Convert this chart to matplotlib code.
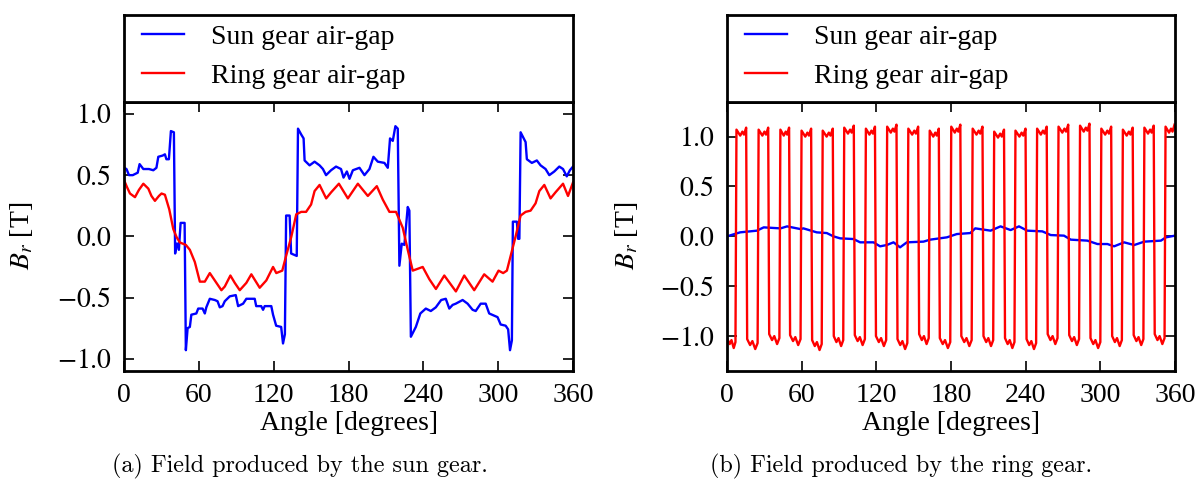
import numpy as np
import matplotlib
matplotlib.use("Agg")
import matplotlib.pyplot as plt

# ---- (a) field produced by the sun gear ----
sun_a_angle = [0, 2, 4, 7, 9, 11, 12.5, 14, 15.5, 20, 23.5, 26, 27.5, 31, 32.8, 34, 36,
               37.6, 40, 41, 42, 43, 44, 45.4, 48.6, 49.6, 51, 52.8, 54, 58, 59.5, 63,
               64.8, 66, 68.8, 72.8, 75, 76.8, 79, 80.8, 84.8, 89.6, 91.5, 95.5, 98.1,
               104.8, 106, 110, 111.5, 112.8, 118.1, 119.5, 122, 126, 127.5, 129, 130,
               132.8, 134, 138.5, 139.5, 142.2, 144, 144.8, 148.8, 152.8, 156.8, 159.5,
               162, 166, 170, 174, 176, 178.7, 180.8, 183.5, 188.8, 192.8, 196.8, 200,
               203.5, 208.8, 211.5, 213.3, 215.5, 217.6, 219.5, 220.8, 222.7, 224.8,
               227.5, 228.8, 230, 232, 234, 237.6, 242, 246, 250, 254.3, 258, 260.8,
               263.5, 266, 271.5, 275.5, 279.5, 282, 286, 290, 292.8, 299.5, 302, 306,
               308, 309.5, 311, 311.8, 315, 316, 317, 318, 320.5, 322, 323, 327, 331,
               334, 338, 341, 345, 349, 352, 355, 357.5, 360]
sun_a_field = [0.56, 0.55, 0.50, 0.50, 0.51, 0.52, 0.59, 0.57, 0.55, 0.55, 0.54, 0.56,
               0.65, 0.66, 0.67, 0.63, 0.63, 0.86, 0.85, -0.14, -0.06, -0.06, -0.11,
               0.11, 0.11, -0.93, -0.75, -0.74, -0.64, -0.63, -0.59, -0.59, -0.63,
               -0.58, -0.51, -0.52, -0.53, -0.58, -0.57, -0.53, -0.49, -0.48, -0.57,
               -0.55, -0.51, -0.51, -0.57, -0.57, -0.60, -0.57, -0.57, -0.64, -0.73,
               -0.74, -0.875, -0.80, 0.17, 0.17, -0.14, -0.16, 0.88, 0.83, 0.80, 0.62,
               0.58, 0.61, 0.58, 0.55, 0.50, 0.54, 0.57, 0.55, 0.48, 0.53, 0.47, 0.54,
               0.56, 0.50, 0.55, 0.65, 0.61, 0.60, 0.56, 0.80, 0.78, 0.90, 0.88, -0.24,
               -0.06, -0.07, 0.24, 0.21, -0.82, -0.78, -0.74, -0.63, -0.59, -0.61,
               -0.58, -0.52, -0.51, -0.59, -0.56, -0.55, -0.52, -0.55, -0.60, -0.61,
               -0.55, -0.55, -0.63, -0.66, -0.72, -0.73, -0.76, -0.93, -0.85, 0.12,
               0.12, -0.02, -0.02, 0.85, 0.80, 0.77, 0.63, 0.60, 0.62, 0.58, 0.55,
               0.50, 0.53, 0.57, 0.55, 0.49, 0.54, 0.57]

ring_a_angle = [0, 2.5, 4.8, 8.8, 12, 15.5, 19.5, 22, 24.8, 28, 30.1, 32.8, 36.3, 39.5,
                42.1, 44.8, 49.6, 52.8, 56.8, 60.8, 64.8, 68.8, 74.1, 78.1, 80.8, 85.3,
                88.8, 92.8, 98.1, 102.1, 108.8, 114.1, 119.5, 122.1, 126.9, 130.1,
                134.1, 138.1, 142.1, 146, 150, 152.8, 156.8, 162.1, 166.1, 172.3,
                179.5, 187.5, 195.5, 202.7, 207.5, 212.8, 218.1, 223.5, 227.5, 231.5,
                239.5, 244.8, 250.1, 256.8, 266.1, 272.8, 280.8, 288.8, 295.5, 300.3,
                304, 307, 310, 314, 318, 322, 326, 330, 333, 337, 342, 346, 352, 356, 360]
ring_a_field = [0.46, 0.40, 0.35, 0.32, 0.38, 0.43, 0.39, 0.33, 0.29, 0.33, 0.35, 0.34,
                0.22, 0.06, -0.005, -0.05, -0.07, -0.11, -0.21, -0.37, -0.37, -0.30,
                -0.38, -0.44, -0.41, -0.32, -0.38, -0.44, -0.38, -0.31, -0.42, -0.36,
                -0.25, -0.30, -0.28, -0.155, -0.005, 0.18, 0.20, 0.20, 0.26, 0.37,
                0.42, 0.31, 0.36, 0.43, 0.31, 0.43, 0.33, 0.41, 0.30, 0.20, 0.20, 0.07,
                -0.11, -0.28, -0.25, -0.35, -0.43, -0.32, -0.45, -0.32, -0.44, -0.31,
                -0.37, -0.28, -0.30, -0.28, -0.16, 0.0, 0.17, 0.20, 0.21, 0.27, 0.37,
                0.42, 0.31, 0.36, 0.43, 0.33, 0.44]

# ---- (b) field produced by the ring gear ----
sun_b_angle = [0, 10.5, 24, 29.5, 43, 48.3, 59, 61.4, 72.1, 80.2, 85.5, 90.9, 101.6,
               107, 117.7, 123, 128.4, 133.8, 139.1, 144.5, 157.9, 163.3, 176.7, 184.7,
               195.5, 199.5, 211.8, 219.8, 227.9, 234.6, 241.3, 253.4, 260.1, 270.8,
               276.2, 289.6, 297.7, 305.7, 311.1, 319.1, 327.2, 335.3, 348.7, 352.7, 360]
sun_b_field = [0.0, 0.04, 0.057, 0.09, 0.08, 0.10, 0.073, 0.08, 0.04, 0.033, 0.0, -0.02,
               -0.027, -0.06, -0.06, -0.10, -0.087, -0.06, -0.11, -0.06, -0.053,
               -0.033, -0.01, 0.023, 0.033, 0.08, 0.057, 0.10, 0.063, 0.10, 0.057,
               0.05, 0.013, 0.007, -0.033, -0.043, -0.077, -0.077, -0.10, -0.06,
               -0.087, -0.053, -0.043, -0.01, 0.007]

# edges of the ring-gear square wave (degrees) and plateau extremes
ring_rise = [7.2, 25.0, 42.5, 59.5, 76.5, 93.8, 111.2, 128.3, 145.3, 162.5, 179.8,
             197.0, 214.3, 231.4, 248.8, 266.0, 283.3, 300.4, 317.7, 335.0, 352.0]
ring_fall = [15.8, 33.5, 50.3, 68.0, 85.4, 102.3, 119.3, 136.6, 154.0, 170.6, 187.9,
             205.7, 223.0, 240.3, 257.3, 274.6, 291.7, 309.1, 326.4, 343.3]
ring_high = [1.09, 1.09, 1.09, 1.08, 1.08, 1.11, 1.10, 1.12, 1.10, 1.08, 1.12, 1.10,
             1.07, 1.08, 1.10, 1.12, 1.13, 1.10, 1.09, 1.11, 1.12]
ring_low = [-1.12, -1.13, -1.08, -1.09, -1.14, -1.10, -1.09, -1.10, -1.13, -1.08,
            -1.12, -1.10, -1.10, -1.12, -1.13, -1.08, -1.09, -1.12, -1.10, -1.09, -1.08]

yticks = [-1.0, -0.5, 0.0, 0.5, 1.0]
ytick_labels = ['$-1.0$', '$-0.5$', '$0.0$', '$0.5$', '$1.0$']
sun_label = 'Sun gear air-gap'
ring_label = 'Ring gear air-gap'
captions = ['(a) Field produced by the sun gear.', '(b) Field produced by the ring gear.']

W, H = 1203, 496
plt.rcParams['font.family'] = ['Liberation Serif', 'DejaVu Serif']
plt.rcParams['mathtext.fontset'] = 'stix'
plt.rcParams['font.size'] = 20


def square_wave(rises, falls, highs, lows, end):
    """Vertex list of the ring-gear square wave from its read edges."""
    edges = sorted([(r, 1) for r in rises] + [(f, 0) for f in falls])
    bounds = [0.0] + [e[0] for e in edges] + [end]
    states = [0] + [e[1] for e in edges]
    xs, ys = [], []
    hi_i = lo_i = 0
    for k, s in enumerate(states):
        a, b = bounds[k], bounds[k + 1]
        w = b - a
        t0 = a + (0.4 if k > 0 else 0.0)
        if s:
            p = highs[hi_i]
            hi_i += 1
            pts = [(t0, p - 0.02), (a + 0.4 * w, p - 0.08), (a + 0.6 * w, p - 0.04),
                   (a + 0.75 * w, p - 0.07), (b - 0.4, p)]
        else:
            p = lows[lo_i]
            lo_i += 1
            pts = [(t0, p + 0.10), (a + 0.3 * w, p + 0.04), (a + 0.5 * w, p + 0.08),
                   (a + 0.75 * w, p), (b - 0.4, p + 0.06)]
        for x, y in pts:
            if x <= end:
                xs.append(x)
                ys.append(y)
    return xs, ys


fig = plt.figure(figsize=(W / 100, H / 100), dpi=100)

panels = [
    dict(left=124, width=449, ylim=1.1, label_x=35,
         sun=(sun_a_angle, sun_a_field), ring=(ring_a_angle, ring_a_field)),
    dict(left=727, width=448, ylim=1.35, label_x=640,
         sun=(sun_b_angle, sun_b_field),
         ring=square_wave(ring_rise, ring_fall, ring_high, ring_low, 360.0)),
]

ax_top, ax_bot, leg_top = 101.7, 371.0, 15.0

for i, p in enumerate(panels):
    ax = fig.add_axes([p['left'] / W, 1 - ax_bot / H, p['width'] / W, (ax_bot - ax_top) / H])
    l1, = ax.plot(*p['sun'], color='#0000ff', lw=1.7, label=sun_label)
    l2, = ax.plot(*p['ring'], color='#ff0000', lw=1.7, label=ring_label)
    ax.set_xlim(0, 360)
    ax.set_ylim(-p['ylim'], p['ylim'])
    ax.set_xticks(np.arange(0, 361, 60))
    ax.set_yticks(yticks)
    ax.set_yticklabels(ytick_labels)
    ax.tick_params(direction='in', top=True, right=True, length=7, width=1.2, pad=9)
    for sp in ax.spines.values():
        sp.set_linewidth(2.0)
    ax.set_xlabel('Angle [degrees]', labelpad=2)
    ax.set_ylabel('$B_r$ [T]')
    ax.yaxis.set_label_coords((p['label_x'] - p['left']) / p['width'], 0.5)

    # legend box sitting on top of the axes
    lax = fig.add_axes([p['left'] / W, 1 - ax_top / H, p['width'] / W, (ax_top - leg_top) / H])
    lax.set_xticks([])
    lax.set_yticks([])
    for sp in lax.spines.values():
        sp.set_linewidth(2.0)
    lax.legend([l1, l2], [sun_label, ring_label], loc='center left',
               bbox_to_anchor=(18 / p['width'], 0.52), frameon=False,
               borderpad=0, borderaxespad=0, handlelength=1.5,
               handletextpad=1.0, labelspacing=0.5, fontsize=20)

    cx = 300 if i == 0 else 901
    fig.text(cx / W, 1 - 466 / H, captions[i], ha='center', va='center',
             family='cmr10', fontsize=17.4)

fig.savefig('out.png', dpi=100)
